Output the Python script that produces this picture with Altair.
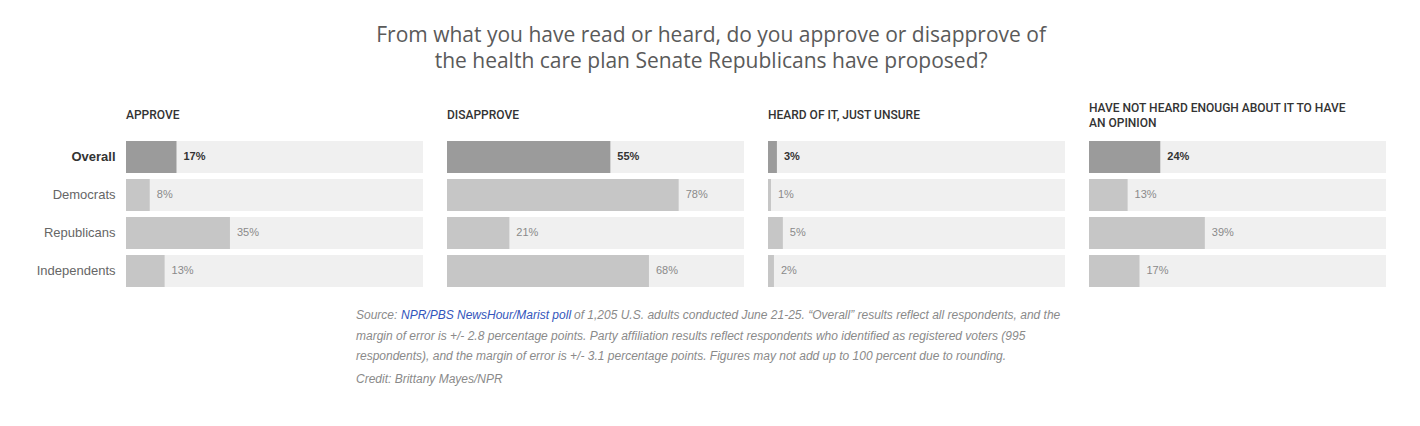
import altair as alt
import pandas as pd

groups = ["Overall", "Democrats", "Republicans", "Independents"]
approve = [17, 8, 35, 13]
disapprove = [55, 78, 21, 68]
unsure = [3, 1, 5, 2]
not_heard = [24, 13, 39, 17]
panel_titles = [
    ["APPROVE"],
    ["DISAPPROVE"],
    ["HEARD OF IT, JUST UNSURE"],
    ["HAVE NOT HEARD ENOUGH ABOUT IT TO HAVE", "AN OPINION"],
]
main_title = [
    "From what you have read or heard, do you approve or disapprove of",
    "the health care plan Senate Republicans have proposed?",
]
source_pre = "Source: "
source_link = "NPR/PBS NewsHour/Marist poll"
source_rest = " of 1,205 U.S. adults conducted June 21-25. \u201cOverall\u201d results reflect all respondents, and the"
note_lines = [
    "margin of error is +/- 2.8 percentage points. Party affiliation results reflect respondents who identified as registered voters (995",
    "respondents), and the margin of error is +/- 3.1 percentage points. Figures may not add up to 100 percent due to rounding.",
    "Credit: Brittany Mayes/NPR",
]

W = 297
H = 146
XS = alt.Scale(domain=[0, 100])


def panel(values, title, first, offset):
    df = pd.DataFrame({"group": groups, "value": values})
    base = alt.Chart(df).transform_calculate(full="100", label="datum.value + '%'")
    if first:
        ax = alt.Axis(
            domain=False, ticks=False, labelPadding=11, labelFontSize=13,
            labelFont="Liberation Sans",
            labelColor={"expr": "datum.value == 'Overall' ? '#333333' : '#666666'"},
            labelFontWeight={"expr": "datum.value == 'Overall' ? 'bold' : 'normal'"},
        )
    else:
        ax = None
    y = alt.Y("group:N", sort=groups, title=None, axis=ax,
              scale=alt.Scale(paddingInner=6 / 38, paddingOuter=0))
    track = base.mark_bar(color="#f0f0f0").encode(
        x=alt.X("full:Q", scale=XS, axis=None), y=y)
    bars = base.mark_bar().encode(
        x=alt.X("value:Q", scale=XS, axis=None), y=y,
        color=alt.condition("datum.group == 'Overall'", alt.value("#9b9b9b"), alt.value("#c6c6c6")))
    lab_all = base.transform_filter("datum.group == 'Overall'").mark_text(
        align="left", dx=7, fontSize=11, font="Liberation Sans", fontWeight="bold", color="#333333"
    ).encode(x=alt.X("value:Q", scale=XS, axis=None), y=y, text="label:N")
    lab_rest = base.transform_filter("datum.group != 'Overall'").mark_text(
        align="left", dx=7, fontSize=11, font="Liberation Sans", color="#8a8a8a"
    ).encode(x=alt.X("value:Q", scale=XS, axis=None), y=y, text="label:N")
    return alt.layer(track, bars, lab_all, lab_rest).properties(
        width=W, height=H,
        title=alt.TitleParams(
            text=title, anchor="start", frame="group", baseline="middle", fontSize=12,
            font="Roboto", fontWeight=500, color="#333333", offset=offset, lineHeight=15,
        ),
    )


panels = alt.hconcat(
    panel(approve, panel_titles[0], True, 14),
    panel(disapprove, panel_titles[1], False, 14),
    panel(unsure, panel_titles[2], False, 14),
    panel(not_heard, panel_titles[3], False, 6),
    spacing=24,
)

FX = 230
foot_df = pd.DataFrame({"k": [0]})
fbase = alt.Chart(foot_df)
fstyle = dict(align="left", baseline="middle", fontSize=12, font="Liberation Sans", fontStyle="italic")
GRAY = "#8a8a8a"
foot = alt.layer(
    fbase.mark_text(color=GRAY, **fstyle).encode(x=alt.value(FX), y=alt.value(10), text=alt.value(source_pre)),
    fbase.mark_text(color="#3355bb", **fstyle).encode(x=alt.value(FX + 45), y=alt.value(10), text=alt.value(source_link)),
    fbase.mark_text(color=GRAY, **fstyle).encode(x=alt.value(FX + 218), y=alt.value(10), text=alt.value(source_rest)),
    fbase.mark_text(color=GRAY, **fstyle).encode(x=alt.value(FX), y=alt.value(31), text=alt.value(note_lines[0])),
    fbase.mark_text(color=GRAY, **fstyle).encode(x=alt.value(FX), y=alt.value(51), text=alt.value(note_lines[1])),
    fbase.mark_text(color=GRAY, **fstyle).encode(x=alt.value(FX), y=alt.value(74), text=alt.value(note_lines[2])),
).properties(width=1260, height=84)

chart = alt.vconcat(panels, foot, spacing=18).properties(
    title=alt.TitleParams(
        text=main_title, anchor="middle", fontSize=21, font="Open Sans", fontWeight="normal",
        color="#5a5a5a", lineHeight=26.5, offset=30,
    ),
    padding={"left": 28, "top": 16, "right": 5, "bottom": 5},
).configure_view(stroke=None)

chart.save("out.html", embed_options={"renderer": "svg", "actions": False})
